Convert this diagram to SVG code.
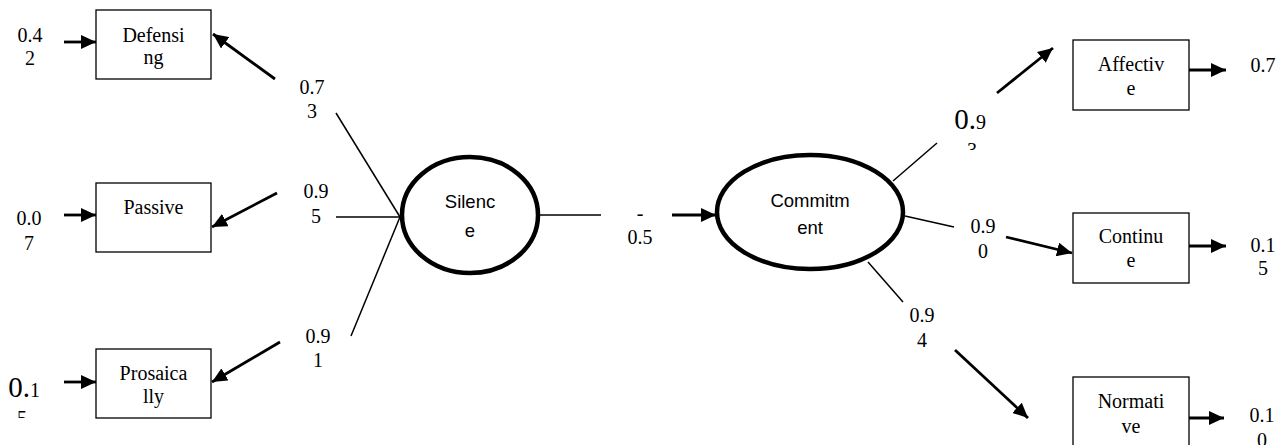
<svg xmlns="http://www.w3.org/2000/svg" width="1287" height="445" viewBox="0 0 1287 445">
<style>
.box{fill:#fff;stroke:#000;stroke-width:1.3}
.lat{fill:#fff;stroke:#000;stroke-width:4.5}
.t{font-family:'Liberation Serif','DejaVu Serif','Times New Roman',serif;font-size:20px;fill:#000;text-anchor:middle}
.s{font-family:'Liberation Sans','DejaVu Sans',Arial,sans-serif;font-size:18.5px;fill:#000;text-anchor:middle}
.big{font-size:29px}
.thin{stroke:#000;stroke-width:1.5;fill:none}
.arr{stroke:#000;stroke-width:2.8;fill:none;marker-end:url(#ah)}
</style>
<defs>
<marker id="ah" markerUnits="userSpaceOnUse" markerWidth="16" markerHeight="14" refX="15" refY="7" orient="auto">
<path d="M0,0 L15,7 L0,14 z" fill="#000"/>
</marker>
<clipPath id="c5"><rect x="0" y="0" width="80" height="418"/></clipPath>
<clipPath id="c3"><rect x="940" y="0" width="60" height="150"/></clipPath>
</defs>
<rect width="1287" height="445" fill="#fff"/>
<g id="connectors">
<line class="arr" x1="64" y1="42" x2="96" y2="42"/>
<line class="arr" x1="64" y1="215" x2="96" y2="215"/>
<line class="arr" x1="64" y1="382" x2="96" y2="382"/>
<line class="arr" x1="275" y1="79" x2="213" y2="34"/>
<line class="arr" x1="277" y1="193" x2="212" y2="227"/>
<line class="arr" x1="280" y1="342" x2="212" y2="382"/>
<line class="thin" x1="336" y1="113" x2="400" y2="217"/>
<line class="thin" x1="336" y1="217" x2="400" y2="217"/>
<line class="thin" x1="351" y1="336" x2="400" y2="217"/>
<line class="thin" x1="539" y1="215" x2="601" y2="215"/>
<line class="arr" x1="672" y1="215" x2="716" y2="215"/>
<line class="thin" x1="893" y1="181" x2="937" y2="143"/>
<line class="thin" x1="905" y1="216" x2="954" y2="227"/>
<line class="thin" x1="868" y1="262" x2="903" y2="302"/>
<line class="arr" x1="997" y1="93" x2="1053" y2="48"/>
<line class="arr" x1="1006" y1="237" x2="1072" y2="253"/>
<line class="arr" x1="955" y1="350" x2="1028" y2="418"/>
<line class="arr" x1="1189" y1="70" x2="1226" y2="70"/>
<line class="arr" x1="1189" y1="246" x2="1226" y2="246"/>
<line class="arr" x1="1189" y1="418" x2="1224" y2="418"/>
</g>
<g id="labels" font-family="Liberation Serif, serif">
<text class="t" x="30" y="42">0.4</text><text class="t" x="30" y="65">2</text>
<text class="t" x="29" y="225">0.0</text><text class="t" x="29" y="250">7</text>
<text class="t" x="24" y="397"><tspan class="big">0.</tspan>1</text>
<text class="t" x="22" y="425" clip-path="url(#c5)">5</text>
<text class="t" x="312" y="94">0.7</text><text class="t" x="312" y="118">3</text>
<text class="t" x="316" y="198">0.9</text><text class="t" x="316" y="223">5</text>
<text class="t" x="318" y="343">0.9</text><text class="t" x="318" y="367">1</text>
<text class="t" x="640" y="220">-</text><text class="t" x="640" y="244">0.5</text>
<text class="t" x="970" y="129"><tspan class="big">0.</tspan>9</text>
<text class="t" x="972" y="157" clip-path="url(#c3)">3</text>
<text class="t" x="983" y="233">0.9</text><text class="t" x="983" y="258">0</text>
<text class="t" x="922" y="322">0.9</text><text class="t" x="922" y="347">4</text>
<text class="t" x="1263" y="72">0.7</text>
<text class="t" x="1263" y="252">0.1</text><text class="t" x="1263" y="275">5</text>
<text class="t" x="1262" y="422">0.1</text><text class="t" x="1262" y="447">0</text>
</g>
<g id="defensing"><rect class="box" x="96" y="10" width="115" height="69"/><text class="t" x="153.5" y="42">Defensi</text><text class="t" x="153.5" y="64">ng</text></g>
<g id="passive"><rect class="box" x="96" y="183" width="115" height="69"/><text class="t" x="153.5" y="214">Passive</text></g>
<g id="prosaically"><rect class="box" x="96" y="349" width="115" height="69"/><text class="t" x="153.5" y="380">Prosaica</text><text class="t" x="153.5" y="403">lly</text></g>
<g id="silence"><ellipse class="lat" cx="470" cy="215" rx="68" ry="58"/><text class="s" x="470" y="208">Silenc</text><text class="s" x="470" y="237">e</text></g>
<g id="commitment"><ellipse class="lat" cx="810" cy="212" rx="93" ry="57"/><text class="s" x="810" y="207">Commitm</text><text class="s" x="810" y="234">ent</text></g>
<g id="affective"><rect class="box" x="1073" y="40" width="116" height="70"/><text class="t" x="1131" y="71">Affectiv</text><text class="t" x="1131" y="95">e</text></g>
<g id="continue"><rect class="box" x="1073" y="213" width="116" height="70"/><text class="t" x="1131" y="243">Continu</text><text class="t" x="1131" y="267">e</text></g>
<g id="normative"><rect class="box" x="1073" y="377" width="116" height="72"/><text class="t" x="1131" y="408">Normati</text><text class="t" x="1131" y="433">ve</text></g>
</svg>
